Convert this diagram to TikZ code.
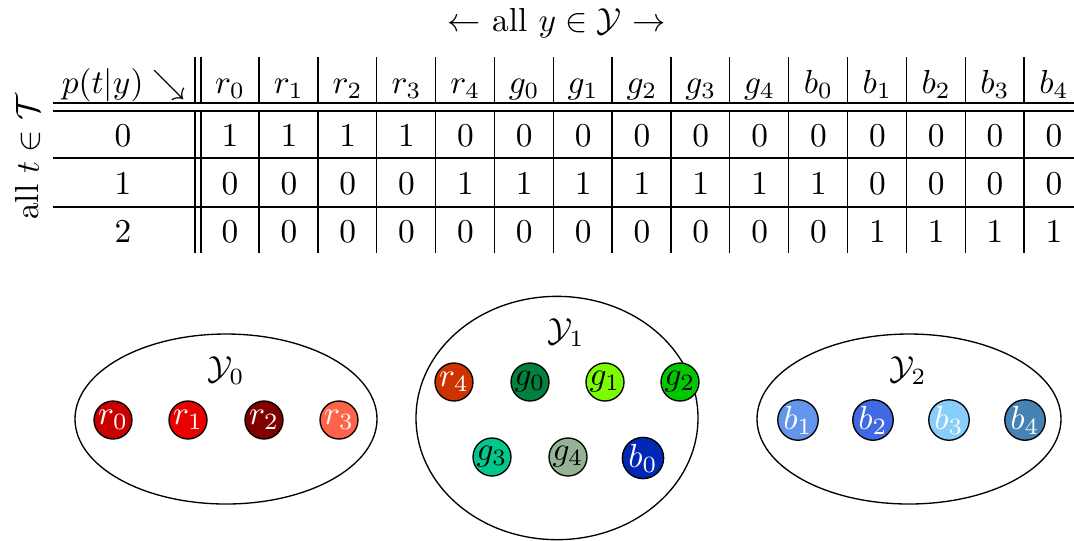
\documentclass[tikz,border=0pt]{standalone}
\usetikzlibrary{shapes.geometric}
\definecolor{cR0}{RGB}{200,0,0}
\definecolor{cR1}{RGB}{235,0,0}
\definecolor{cR2}{RGB}{128,0,0}
\definecolor{cR3}{RGB}{255,99,71}
\definecolor{cR4}{RGB}{204,51,0}
\definecolor{cG0}{RGB}{0,130,62}
\definecolor{cG1}{RGB}{124,252,0}
\definecolor{cG2}{RGB}{0,200,0}
\definecolor{cG3}{RGB}{0,200,140}
\definecolor{cG4}{RGB}{150,178,150}
\definecolor{cB0}{RGB}{0,40,180}
\definecolor{cB1}{RGB}{100,149,237}
\definecolor{cB2}{RGB}{65,105,225}
\definecolor{cB3}{RGB}{135,206,250}
\definecolor{cB4}{RGB}{70,130,180}
\tikzset{
  rule/.style={line width=0.4pt, black},
  cell/.style={anchor=base, inner sep=0pt},
  group/.style={draw, ellipse, line width=0.4pt, inner sep=0pt},
  item/.style={draw, circle, line width=0.4pt, inner sep=0pt, minimum size=11.4pt},
  light/.style={item, text=white},
  dark/.style={item, text=black},
}
\begin{document}
\begin{tikzpicture}[x=0.3pt, y=-0.3pt]
\useasboundingbox (0,0) rectangle (1074,540);

% axis captions
\node[cell] (ytitle) at (557,31) {$\leftarrow$ all $y\in\mathcal{Y}$ $\rightarrow$};
\node[rotate=90, inner sep=0pt] (ttitle) at (28,157) {all $t\in\mathcal{T}$};

% table rules
\foreach \yy in {103,111,158,207} \draw[rule] (53,\yy) -- (1074,\yy);
\foreach \xx in {195,201} {
  \draw[rule] (\xx,57) -- (\xx,103);
  \draw[rule] (\xx,111) -- (\xx,253);
}
\foreach \k in {0,...,13} {
  \draw[rule] ({259+58.85*\k},57) -- ({259+58.85*\k},103);
  \draw[rule] ({259+58.85*\k},111) -- ({259+58.85*\k},253);
}

% header row
\node[cell] (corner) at (124,93) {$p(t|y) \searrow$};
\foreach \lab [count=\i from 0] in {r_0,r_1,r_2,r_3,r_4,g_0,g_1,g_2,g_3,g_4,b_0,b_1,b_2,b_3,b_4}
  \node[cell] (h\i) at ({230+58.85*\i},93) {$\lab$};

% body rows
\foreach \t/\yy in {0/146,1/194,2/242}
  \node[cell] (t\t) at (123,\yy) {$\t$};
\foreach \v [count=\i from 0] in {1,1,1,1,0,0,0,0,0,0,0,0,0,0,0}
  \node[cell] (p0\i) at ({230+58.85*\i},146) {$\v$};
\foreach \v [count=\i from 0] in {0,0,0,0,1,1,1,1,1,1,1,0,0,0,0}
  \node[cell] (p1\i) at ({230+58.85*\i},194) {$\v$};
\foreach \v [count=\i from 0] in {0,0,0,0,0,0,0,0,0,0,0,1,1,1,1}
  \node[cell] (p2\i) at ({230+58.85*\i},242) {$\v$};

% groups
\node[group, minimum width=90.6pt, minimum height=51pt] (Y0) at (226,419) {};
\node[group, minimum width=84.6pt, minimum height=73pt] (Y1) at (557,418) {};
\node[group, minimum width=91.2pt, minimum height=51pt] (Y2) at (909,419) {};
\node (Y0lab) at (226,371) {$\mathcal{Y}_0$};
\node (Y1lab) at (566,333) {$\mathcal{Y}_1$};
\node (Y2lab) at (908,371) {$\mathcal{Y}_2$};

% members of Y0
\node[light, fill=cR0] (r0) at (113,420) {$r_0$};
\node[light, fill=cR1] (r1) at (188,420) {$r_1$};
\node[light, fill=cR2] (r2) at (264,420) {$r_2$};
\node[light, fill=cR3] (r3) at (339,420) {$r_3$};

% members of Y1
\node[light, fill=cR4] (r4) at (454,382) {$r_4$};
\node[dark, fill=cG0] (g0) at (530,382) {$g_0$};
\node[dark, fill=cG1] (g1) at (605,382) {$g_1$};
\node[dark, fill=cG2] (g2) at (680,382) {$g_2$};
\node[dark, fill=cG3] (g3) at (492,457) {$g_3$};
\node[dark, fill=cG4] (g4) at (568,457) {$g_4$};
\node[light, fill=cB0, minimum size=12.4pt] (b0) at (643,458) {$b_0$};

% members of Y2
\node[light, fill=cB1] (b1) at (798,420) {$b_1$};
\node[light, fill=cB2] (b2) at (873,420) {$b_2$};
\node[light, fill=cB3] (b3) at (949,420) {$b_3$};
\node[light, fill=cB4] (b4) at (1025,420) {$b_4$};
\end{tikzpicture}
\end{document}
